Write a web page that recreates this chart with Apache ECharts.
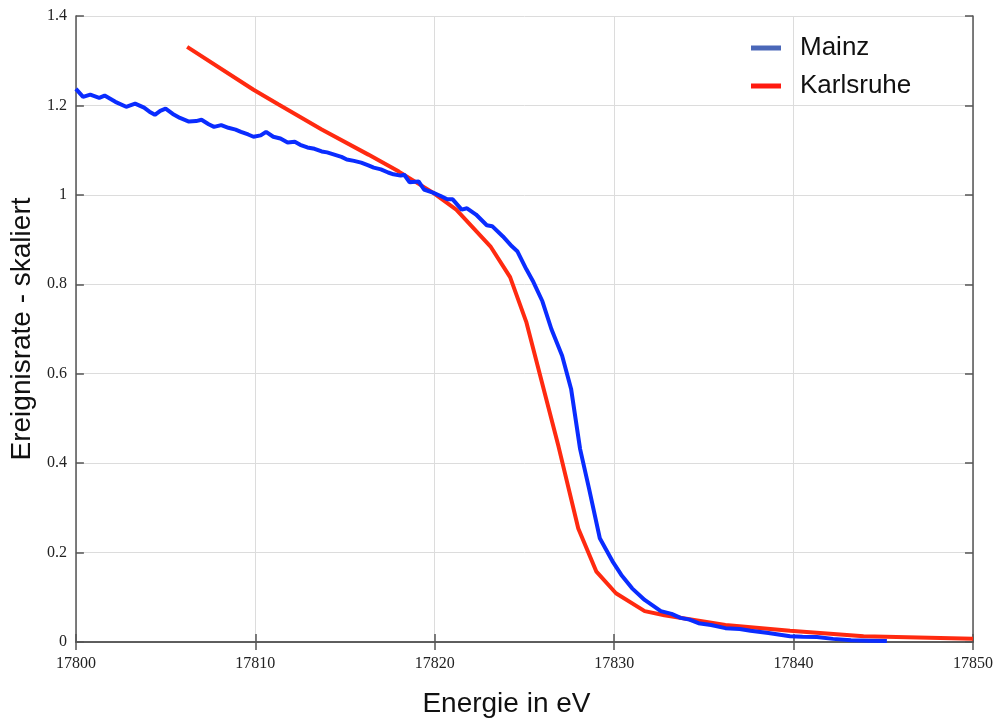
<!DOCTYPE html>
<html>
<head>
<meta charset="utf-8">
<script src="https://cdn.jsdelivr.net/npm/echarts@6/dist/echarts.min.js"></script>
<style>
  html, body { margin: 0; padding: 0; background: #fff; }
  #chart { width: 998px; height: 723px; }
</style>
</head>
<body>
<div id="chart"></div>
<script>
// Mainz (blue), energy in eV vs scaled rate
const mainz = [
  [17800.0,1.237],[17800.4,1.219],[17800.8,1.224],[17801.3,1.217],[17801.6,1.222],[17802.2,1.208],
  [17802.8,1.197],[17803.3,1.204],[17803.8,1.195],[17804.1,1.186],[17804.4,1.179],[17804.7,1.188],
  [17805.0,1.193],[17805.4,1.181],[17805.8,1.172],[17806.3,1.164],[17806.7,1.165],[17807.0,1.168],
  [17807.4,1.158],[17807.7,1.152],[17808.1,1.156],[17808.5,1.150],[17808.9,1.146],[17809.2,1.141],
  [17809.6,1.135],[17809.9,1.130],[17810.3,1.133],[17810.6,1.141],[17811.0,1.130],[17811.4,1.126],
  [17811.8,1.117],[17812.2,1.119],[17812.5,1.112],[17812.9,1.106],[17813.3,1.103],[17813.7,1.097],
  [17814.0,1.095],[17814.4,1.090],[17814.8,1.085],[17815.1,1.079],[17815.5,1.076],[17815.9,1.072],
  [17816.3,1.066],[17816.6,1.061],[17817.0,1.057],[17817.4,1.050],[17817.7,1.046],[17818.1,1.043],
  [17818.3,1.045],[17818.6,1.028],[17819.1,1.030],[17819.4,1.012],[17819.9,1.005],[17820.3,0.998],
  [17820.7,0.990],[17821.0,0.990],[17821.5,0.967],[17821.8,0.970],[17822.3,0.956],[17822.9,0.932],
  [17823.2,0.930],[17823.8,0.907],[17824.3,0.885],[17824.6,0.874],[17825.1,0.834],[17825.5,0.805],
  [17826.0,0.762],[17826.5,0.700],[17827.1,0.640],[17827.6,0.566],[17828.1,0.432],[17828.6,0.343],
  [17829.2,0.232],[17829.9,0.181],[17830.4,0.150],[17831.0,0.120],[17831.7,0.094],[17832.6,0.069],
  [17833.2,0.063],[17833.7,0.054],[17834.2,0.050],[17834.7,0.042],[17835.4,0.038],[17836.2,0.031],
  [17837.0,0.029],[17837.6,0.025],[17838.6,0.020],[17839.8,0.013],[17840.5,0.012],[17841.3,0.011],
  [17842.2,0.007],[17843.2,0.004],[17844.2,0.003],[17845.2,0.002]
];

// Karlsruhe (red)
const karlsruhe = [
  [17806.2,1.331],[17809.9,1.235],[17811.3,1.202],[17813.7,1.146],[17816.3,1.090],[17818.0,1.052],
  [17819.9,1.005],[17821.2,0.967],[17823.1,0.885],[17824.2,0.816],[17825.1,0.716],[17826.9,0.437],
  [17828.0,0.254],[17829.0,0.158],[17830.1,0.109],[17831.7,0.069],[17832.8,0.060],[17836.2,0.038],
  [17839.8,0.025],[17843.9,0.013],[17850.0,0.007]
];

const xRange = [17800, 17850, 10];
const yRange = [0, 1.4, 0.2];

let myChart = echarts.init(document.getElementById('chart'));

const frameLine = { show: true, lineStyle: { color: '#555', width: 1.5 } };
const innerTick = { show: true, inside: true, length: 8, lineStyle: { color: '#555', width: 1.5 } };

let option = {
  animation: false,
  grid: { left: 73, right: 25, top: 16, bottom: 79, containLabel: false },
  legend: {
    orient: 'vertical',
    left: 746,
    top: 30,
    itemWidth: 30,
    itemHeight: 5,
    itemGap: 12,
    icon: 'rect',
    textStyle: { fontFamily: 'Liberation Sans', fontSize: 26, color: '#111', padding: [0, 0, 0, 14] },
    data: [
      { name: 'Mainz', itemStyle: { color: '#4a67b8' } },
      { name: 'Karlsruhe', itemStyle: { color: '#ff1a10' } }
    ]
  },
  xAxis: [
    {
      type: 'value',
      min: xRange[0], max: xRange[1], interval: xRange[2],
      name: 'Energie in eV',
      nameLocation: 'middle',
      nameGap: 48,
      nameTextStyle: { fontFamily: 'Liberation Sans', fontSize: 28, color: '#111', padding: [0, 36, 0, 0] },
      axisLine: frameLine,
      axisTick: innerTick,
      axisLabel: {
        fontFamily: 'Liberation Serif', fontSize: 16, color: '#222', margin: 14,
        formatter: v => String(v)
      },
      splitLine: { show: true, lineStyle: { color: '#dcdcdc', width: 1 } }
    },
    {
      type: 'value', position: 'top',
      min: xRange[0], max: xRange[1], interval: xRange[2],
      axisLine: frameLine, axisTick: innerTick,
      axisLabel: { show: false }, splitLine: { show: false }
    }
  ],
  yAxis: [
    {
      type: 'value',
      min: yRange[0], max: yRange[1], interval: yRange[2],
      name: 'Ereignisrate - skaliert',
      nameLocation: 'middle',
      nameGap: 30,
      nameTextStyle: { fontFamily: 'Liberation Sans', fontSize: 28, color: '#111' },
      axisLine: frameLine,
      axisTick: innerTick,
      axisLabel: { fontFamily: 'Liberation Serif', fontSize: 16, color: '#222', margin: 9 },
      splitLine: { show: true, lineStyle: { color: '#dcdcdc', width: 1 } }
    },
    {
      type: 'value', position: 'right',
      min: yRange[0], max: yRange[1], interval: yRange[2],
      axisLine: frameLine, axisTick: innerTick,
      axisLabel: { show: false }, splitLine: { show: false }
    }
  ],
  series: [
    {
      name: 'Mainz',
      type: 'line',
      data: mainz,
      showSymbol: false,
      lineStyle: { color: '#0a2cff', width: 4 },
      itemStyle: { color: '#4a67b8' },
      z: 3
    },
    {
      name: 'Karlsruhe',
      type: 'line',
      data: karlsruhe,
      showSymbol: false,
      lineStyle: { color: '#ff2a10', width: 4 },
      itemStyle: { color: '#ff1a10' },
      z: 2
    }
  ]
};
myChart.setOption(option);
</script>
</body>
</html>
